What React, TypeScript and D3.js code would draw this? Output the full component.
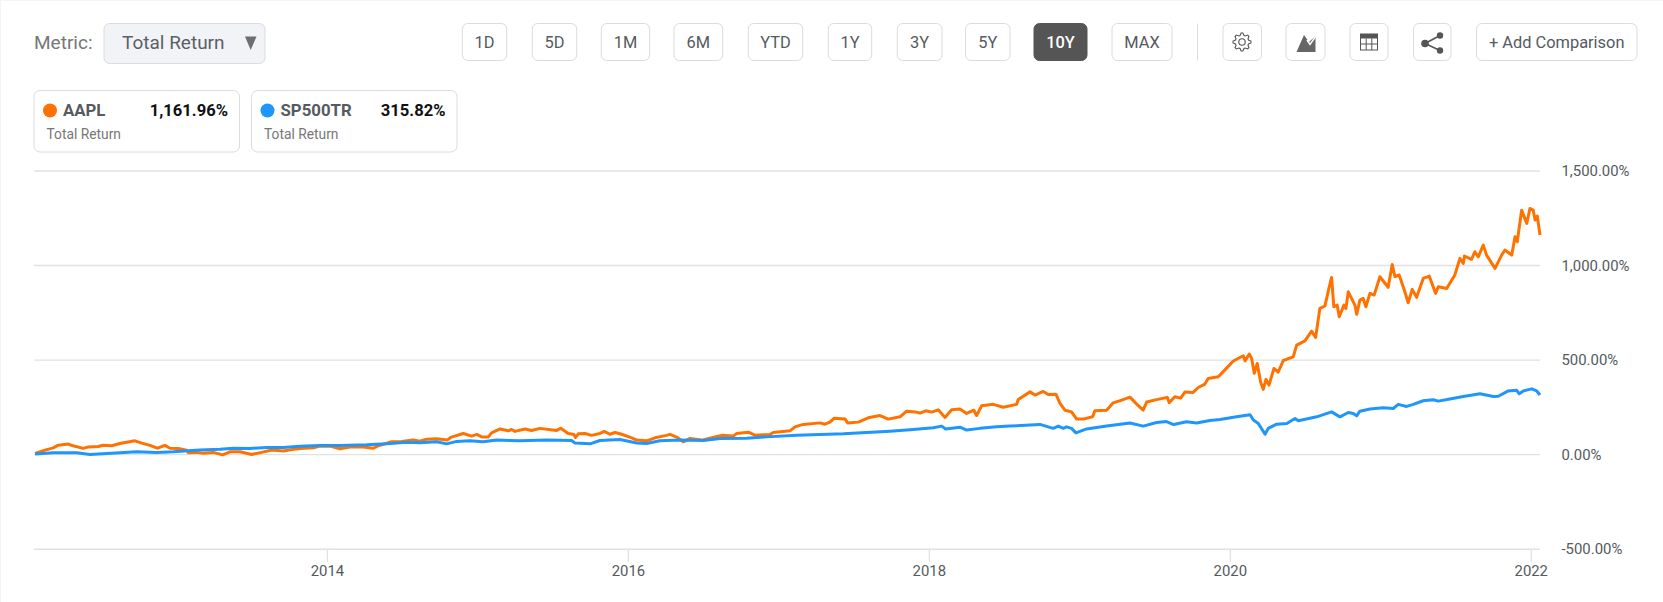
import React from "react";
import * as d3 from "d3";

const aapl: [number, number][] = [
[2012.057,6],[2012.123,24],[2012.178,36],[2012.211,50],[2012.278,56],[2012.309,47],[2012.378,33],[2012.411,41],[2012.477,43],[2012.510,50],[2012.566,47],[2012.621,59],[2012.666,66],[2012.721,73],[2012.766,61],[2012.821,49],[2012.869,34],[2012.920,49],[2012.954,34],[2013.009,33],[2013.065,24],[2013.075,10],[2013.131,12],[2013.175,8],[2013.241,12],[2013.304,-1],[2013.352,15],[2013.419,15],[2013.497,1],[2013.563,12],[2013.630,25],[2013.707,19],[2013.773,28],[2013.840,34],[2013.906,36],[2013.951,45],[2014.017,45],[2014.083,31],[2014.150,40],[2014.238,40],[2014.305,34],[2014.338,47],[2014.427,68],[2014.493,70],[2014.570,77],[2014.615,71],[2014.659,82],[2014.726,84],[2014.796,77],[2014.819,91],[2014.903,112],[2014.959,98],[2014.992,107],[2015.025,94],[2015.069,94],[2015.091,115],[2015.147,136],[2015.202,126],[2015.224,133],[2015.246,123],[2015.313,136],[2015.357,128],[2015.412,139],[2015.523,128],[2015.550,139],[2015.600,112],[2015.638,107],[2015.649,91],[2015.667,110],[2015.711,112],[2015.756,102],[2015.811,112],[2015.840,123],[2015.877,108],[2015.911,117],[2015.955,108],[2016.022,89],[2016.055,77],[2016.121,73],[2016.177,89],[2016.254,102],[2016.276,107],[2016.325,91],[2016.365,68],[2016.409,86],[2016.487,77],[2016.575,93],[2016.620,102],[2016.697,98],[2016.720,112],[2016.797,119],[2016.841,103],[2016.941,107],[2016.963,117],[2017.074,126],[2017.107,147],[2017.162,160],[2017.273,168],[2017.306,161],[2017.339,172],[2017.368,193],[2017.439,189],[2017.457,168],[2017.528,172],[2017.594,195],[2017.672,207],[2017.727,188],[2017.805,200],[2017.849,230],[2017.905,226],[2017.937,220],[2017.977,232],[2018.015,225],[2018.059,237],[2018.104,197],[2018.148,237],[2018.203,242],[2018.248,218],[2018.296,235],[2018.314,207],[2018.347,258],[2018.425,266],[2018.491,251],[2018.580,266],[2018.591,292],[2018.669,332],[2018.702,315],[2018.757,334],[2018.790,318],[2018.841,320],[2018.868,271],[2018.901,235],[2018.945,226],[2018.979,188],[2019.023,188],[2019.085,200],[2019.100,232],[2019.178,235],[2019.222,274],[2019.278,288],[2019.333,304],[2019.378,267],[2019.421,235],[2019.444,278],[2019.510,291],[2019.581,303],[2019.594,275],[2019.632,306],[2019.670,299],[2019.698,331],[2019.753,329],[2019.787,355],[2019.831,373],[2019.853,403],[2019.920,412],[2019.942,430],[2020.020,495],[2020.086,523],[2020.098,496],[2020.126,532],[2020.142,509],[2020.159,430],[2020.179,482],[2020.201,385],[2020.219,345],[2020.237,398],[2020.257,368],[2020.290,456],[2020.318,436],[2020.352,498],[2020.418,517],[2020.441,579],[2020.496,602],[2020.540,653],[2020.567,620],[2020.595,773],[2020.629,786],[2020.655,879],[2020.673,937],[2020.688,782],[2020.710,791],[2020.724,729],[2020.755,791],[2020.768,773],[2020.784,861],[2020.828,791],[2020.840,742],[2020.861,817],[2020.883,826],[2020.901,782],[2020.928,853],[2020.956,844],[2020.994,941],[2021.049,885],[2021.076,1006],[2021.094,941],[2021.122,950],[2021.160,861],[2021.182,803],[2021.209,874],[2021.238,832],[2021.282,932],[2021.322,944],[2021.364,853],[2021.382,888],[2021.438,879],[2021.492,950],[2021.526,1038],[2021.548,1011],[2021.556,1050],[2021.603,1033],[2021.625,1073],[2021.648,1046],[2021.681,1108],[2021.703,1055],[2021.759,985],[2021.803,1055],[2021.825,1082],[2021.870,1055],[2021.892,1152],[2021.907,1126],[2021.936,1293],[2021.970,1223],[2021.991,1302],[2022.013,1293],[2022.025,1241],[2022.040,1262],[2022.058,1161.96]
];

const sp500: [number, number][] = [
[2012.057,3],[2012.178,10],[2012.334,10],[2012.422,1],[2012.621,10],[2012.732,15],[2012.865,12],[2012.976,15],[2013.153,24],[2013.286,28],[2013.374,34],[2013.485,33],[2013.596,38],[2013.707,38],[2013.818,45],[2013.951,49],[2014.083,49],[2014.261,52],[2014.394,57],[2014.527,65],[2014.615,63],[2014.726,68],[2014.792,57],[2014.859,70],[2014.947,73],[2015.034,68],[2015.125,77],[2015.280,73],[2015.457,78],[2015.623,75],[2015.645,61],[2015.745,57],[2015.811,75],[2015.944,80],[2016.055,62],[2016.121,59],[2016.210,73],[2016.343,77],[2016.498,75],[2016.609,86],[2016.786,87],[2016.919,94],[2017.118,103],[2017.273,107],[2017.428,110],[2017.583,117],[2017.738,124],[2017.893,133],[2018.026,142],[2018.082,151],[2018.108,136],[2018.203,145],[2018.248,130],[2018.336,139],[2018.447,147],[2018.536,151],[2018.735,160],[2018.823,139],[2018.857,151],[2018.890,139],[2018.912,147],[2018.945,139],[2018.974,115],[2019.045,136],[2019.178,151],[2019.333,167],[2019.421,151],[2019.510,170],[2019.576,175],[2019.623,159],[2019.709,174],[2019.776,167],[2019.864,181],[2019.931,186],[2020.042,200],[2020.131,211],[2020.153,183],[2020.186,165],[2020.231,108],[2020.252,139],[2020.308,161],[2020.375,165],[2020.430,191],[2020.452,179],[2020.574,200],[2020.673,226],[2020.729,200],[2020.784,223],[2020.817,218],[2020.840,205],[2020.861,230],[2020.928,241],[2021.017,248],[2021.083,244],[2021.116,266],[2021.172,255],[2021.216,266],[2021.282,285],[2021.349,290],[2021.382,283],[2021.459,294],[2021.548,308],[2021.659,322],[2021.748,308],[2021.781,309],[2021.847,337],[2021.903,340],[2021.920,322],[2021.947,337],[2022.003,348],[2022.036,337],[2022.058,315.82]
];

const xTicks = [2014, 2016, 2018, 2020, 2022];
const yTicks = [1500, 1000, 500, 0, -500];
const yLabels = ["1,500.00%", "1,000.00%", "500.00%", "0.00%", "-500.00%"];
const ranges = ["1D", "5D", "1M", "6M", "YTD", "1Y", "3Y", "5Y", "10Y", "MAX"];
const rangeLeft = [462.3, 532.3, 601.3, 674, 748.3, 828.3, 897.3, 965.5, 1034, 1112];
const rangeRight = [506.7, 576.7, 649.7, 722.7, 802.7, 871.7, 942, 1010, 1087, 1172];
const activeRange = "10Y";

const FONT = "Roboto, sans-serif";
const GRID = "#e1e1e1";
const TEXT = "#555a60";
const BORDER = "#dcdcdc";
const ORANGE = "#ff7200";
const BLUE = "#1e96fc";

const x = d3.scaleLinear().domain([2012.05, 2022.058]).range([34, 1540]);
const y = d3.scaleLinear().domain([-500, 1500]).range([549.2, 171]);
const line = d3.line<[number, number]>().x((d) => x(d[0])).y((d) => y(d[1]));

function Btn({ l, r, t = 23.5, b = 60.5 }: { l: number; r: number; t?: number; b?: number }) {
  return <rect x={l} y={t} width={r - l} height={b - t} rx={5.5} fill="#fff" stroke={BORDER} strokeWidth={1} />;
}

function gearPath(cx: number, cy: number) {
  const teeth = 8;
  const pts: string[] = [];
  for (let i = 0; i < teeth * 4; i++) {
    const a = (i / (teeth * 4)) * 2 * Math.PI - Math.PI / 32;
    const rad = i % 4 < 2 ? 9 : 6.8;
    pts.push(`${cx + rad * Math.cos(a)},${cy + rad * Math.sin(a)}`);
  }
  return "M" + pts.join("L") + "Z";
}

function Card({ l, name, value, color }: { l: number; name: string; value: string; color: string }) {
  return (
    <g fontFamily={FONT}>
      <rect x={l} y={90.5} width={205.5} height={61.5} rx={6} fill="#fff" stroke={BORDER} />
      <circle cx={l + 16} cy={110.5} r={7} fill={color} />
      <text x={l + 29} y={116.3} fontSize={16.8} fontWeight={700} fill={TEXT}>{name}</text>
      <text x={l + 194} y={116.3} fontSize={16.6} fontWeight={700} fill="#111" textAnchor="end">{value}</text>
      <text x={l + 12.5} y={138.5} fontSize={13.8} fill="#777">Total Return</text>
    </g>
  );
}

export default function App() {
  return (
    <svg width={1663} height={602} viewBox="0 0 1663 602" style={{ position: "absolute", left: 0, top: 0, background: "#fff" }}>
      <rect x={0} y={0} width={1663} height={1} fill="#f2f4f8" />
      <rect x={0} y={0} width={1} height={602} fill="#f2f4f8" />

      <text x={34} y={48.5} fontFamily={FONT} fontSize={19} fill="#777">Metric:</text>
      <rect x={104} y={23.5} width={161} height={40} rx={5.5} fill="#f2f3f7" stroke={BORDER} />
      <text x={122} y={48.5} fontFamily={FONT} fontSize={19} fill="#5c6066">Total Return</text>
      <path d="M245,36.5L256.5,36.5L250.7,50Z" fill="#6e6e6e" />

      {ranges.map((r, i) => {
        const active = r === activeRange;
        return (
          <g key={r}>
            <rect x={rangeLeft[i]} y={23.5} width={rangeRight[i] - rangeLeft[i]} height={37} rx={5.5}
              fill={active ? "#555" : "#fff"} stroke={active ? "#555" : BORDER} />
            <text x={(rangeLeft[i] + rangeRight[i]) / 2} y={47.8} textAnchor="middle" fontFamily={FONT} fontSize={16.4}
              fontWeight={active ? 500 : 400} fill={active ? "#fff" : TEXT}>{r}</text>
          </g>
        );
      })}
      <line x1={1197.5} x2={1197.5} y1={23.5} y2={60.5} stroke={BORDER} />

      <Btn l={1223} r={1261.5} />
      <path d={gearPath(1242, 42)} fill="none" stroke="#555" strokeWidth={1.1} />
      <circle cx={1242} cy={42} r={3.2} fill="none" stroke="#555" strokeWidth={1.1} />

      <Btn l={1286} r={1325} />
      <path d="M1296.5,52L1304,35L1309,42L1315.5,36V52Z" fill="#666" />
      <path d="M1307,40L1310,44.5L1316,36" fill="none" stroke="#fff" strokeWidth={1.5} />

      <Btn l={1350} r={1388} />
      <rect x={1360.5} y={34} width={17} height={16} fill="#fff" stroke="#555" />
      <rect x={1360.5} y={34} width={17} height={4.5} fill="#555" />
      <path d="M1366.2,38.5V50M1371.8,38.5V50M1360.5,44H1377.5" stroke="#555" fill="none" />

      <Btn l={1413.5} r={1451} />
      <path d="M1440,35.5L1425,43.5L1440,50.5" fill="none" stroke="#555" strokeWidth={1.6} />
      <circle cx={1440} cy={35.5} r={3.2} fill="#555" />
      <circle cx={1425} cy={43.5} r={3.8} fill="#555" />
      <circle cx={1440} cy={50.5} r={3.2} fill="#555" />

      <Btn l={1476.5} r={1637} />
      <text x={1556.7} y={47.8} textAnchor="middle" fontFamily={FONT} fontSize={16.4} fill={TEXT}>+ Add Comparison</text>

      <Card l={34} name="AAPL" value="1,161.96%" color={ORANGE} />
      <Card l={251.5} name="SP500TR" value="315.82%" color={BLUE} />

      {yTicks.map((t, i) => (
        <g key={t}>
          <line x1={34} x2={1540} y1={y(t)} y2={y(t)} stroke={GRID} strokeWidth={1.4} />
          <text x={1561.5} y={y(t) + 5} fontFamily={FONT} fontSize={14.9} fill={TEXT}>{yLabels[i]}</text>
        </g>
      ))}
      {xTicks.map((t) => (
        <g key={t}>
          <line x1={x(t)} x2={x(t)} y1={549.2} y2={562} stroke={GRID} strokeWidth={1.2} />
          <text x={x(t)} y={575.5} textAnchor="middle" fontFamily={FONT} fontSize={14.9} fill={TEXT}>{t}</text>
        </g>
      ))}

      <path d={line(aapl) ?? ""} fill="none" stroke={ORANGE} strokeWidth={3} strokeLinejoin="round" />
      <path d={line(sp500) ?? ""} fill="none" stroke={BLUE} strokeWidth={3} strokeLinejoin="round" />
    </svg>
  );
}
